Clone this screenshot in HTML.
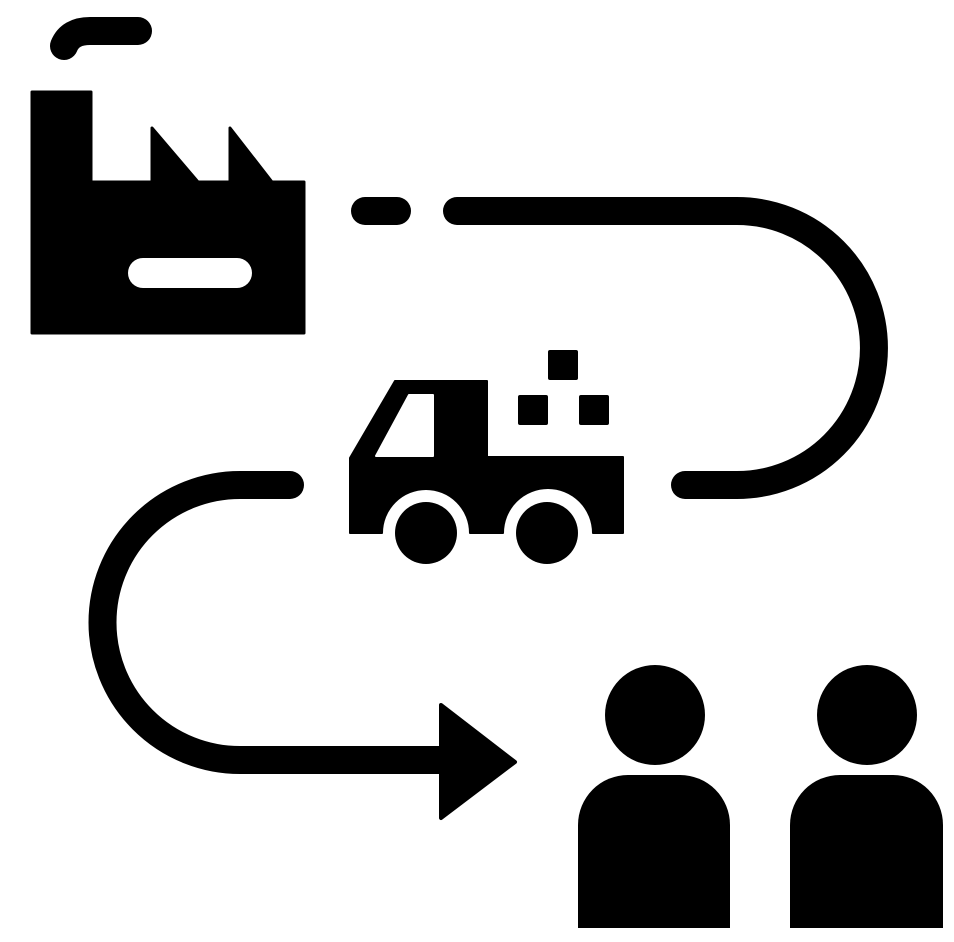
<!DOCTYPE html>
<html><head><style>html,body{margin:0;padding:0;background:#fff;}svg{display:block}</style></head>
<body>
<svg width="954" height="942" viewBox="0 0 954 942" xmlns="http://www.w3.org/2000/svg">
<rect width="954" height="942" fill="#fff"/>
<!-- smoke -->
<path d="M64,46 Q70,31 90,31 L138,31" fill="none" stroke="#000" stroke-width="28" stroke-linecap="round"/>
<!-- factory -->
<path d="M32,92 L91,92 L91,182 L152,182 L152,128 L198,182 L230,182 L230,128 L272,182 L304,182 L304,333 L32,333 Z" fill="#000" stroke="#000" stroke-width="3" stroke-linejoin="round"/>
<rect x="128" y="258" width="124" height="30" rx="15" fill="#fff"/>
<!-- top path -->
<line x1="365" y1="211" x2="397" y2="211" stroke="#000" stroke-width="28" stroke-linecap="round"/>
<path d="M457,211 L737,211 A137,137 0 0 1 737,485 L685,485" fill="none" stroke="#000" stroke-width="28" stroke-linecap="round"/>
<!-- left path -->
<path d="M290,485 L240,485 A137.5,137.5 0 0 0 240,760 L450,760" fill="none" stroke="#000" stroke-width="28" stroke-linecap="round"/>
<polygon points="441,705 515,762 441,818" fill="#000" stroke="#000" stroke-width="4" stroke-linejoin="round"/>
<!-- truck -->
<path d="M350,458 L395,381 L487,381 L487,457 L623,457 L623,533 L593,533 A44,44 0 0 0 503,533 L470,533 A44,44 0 0 0 382,533 L350,533 Z" fill="#000" stroke="#000" stroke-width="2" stroke-linejoin="round"/>
<path d="M376,456 L409,395 L433,395 L433,456 Z" fill="#fff" stroke="#fff" stroke-width="2" stroke-linejoin="round"/>
<circle cx="426" cy="533" r="31" fill="#000"/>
<circle cx="547" cy="533" r="31" fill="#000"/>
<rect x="548" y="350" width="30" height="30" rx="2" fill="#000"/>
<rect x="518" y="395" width="30" height="30" rx="2" fill="#000"/>
<rect x="579" y="395" width="30" height="30" rx="2" fill="#000"/>
<!-- people -->
<circle cx="655" cy="715" r="50" fill="#000"/>
<circle cx="867" cy="715" r="50" fill="#000"/>
<path d="M578,928 L578,825 A50,50 0 0 1 628,775 L680,775 A50,50 0 0 1 730,825 L730,928 Z" fill="#000"/>
<path d="M790,928 L790,825 A50,50 0 0 1 840,775 L893,775 A50,50 0 0 1 943,825 L943,928 Z" fill="#000"/>
</svg>
</body></html>
